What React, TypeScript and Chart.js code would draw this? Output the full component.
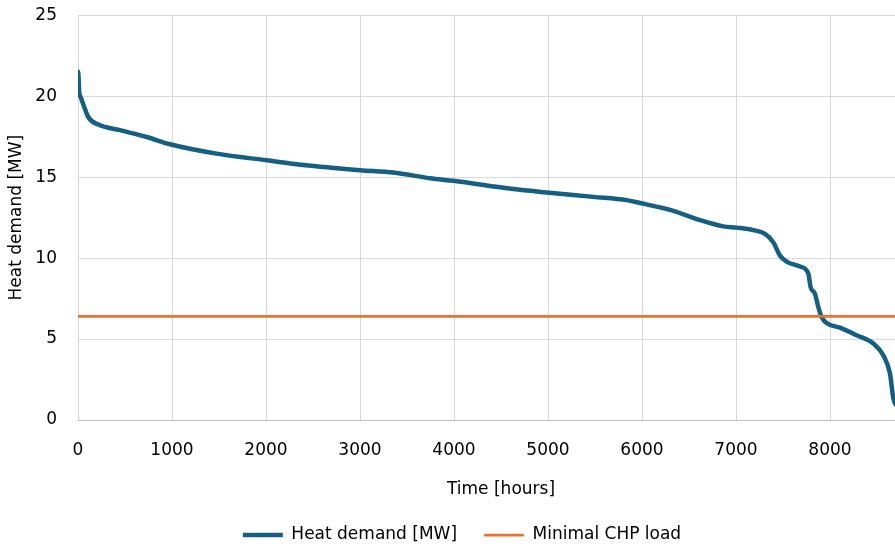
import React, { useEffect, useRef } from "react";
import { Chart, registerables } from "chart.js";

Chart.register(...registerables);

// Load duration curve: hours (sorted) and heat demand in MW
const hours = [
  0, 5, 12, 25, 56, 110, 216, 447, 730, 979, 1475, 2007, 2397, 3000, 3355, 3745,
  3993, 4631, 4986, 5482, 5837, 5979, 6191, 6333, 6617, 6865, 7007, 7184, 7309,
  7397, 7468, 7539, 7681, 7770, 7794, 7840, 7876, 7911, 7964, 8106, 8284, 8461,
  8567, 8638, 8674, 8720, 8760,
];
const heatDemand = [
  21.5, 21.3, 20.3, 20.0, 19.5, 18.7, 18.25, 17.9, 17.48, 17.03, 16.45, 16.04,
  15.75, 15.43, 15.28, 14.93, 14.77, 14.26, 14.05, 13.78, 13.58, 13.4, 13.13,
  12.92, 12.35, 11.96, 11.88, 11.73, 11.49, 10.97, 10.15, 9.78, 9.48, 9.03, 8.2,
  7.8, 6.97, 6.36, 5.99, 5.7, 5.23, 4.72, 4.0, 2.87, 1.33, 0.8, 0.5,
];
const chpHours = [0, 8760];
const chpLoad = [6.4, 6.4];

const xMin = 0;
const xMax = 9000;
const xStep = 1000;
const yMin = 0;
const yMax = 25;
const yStep = 5;

const FONT = { family: "'DejaVu Sans', sans-serif", size: 17 };
const TEXT = "#000000";
const GRID = "#d9d9d9";
const CLEAR = "rgba(0,0,0,0)";

export default function App() {
  const ref = useRef<HTMLCanvasElement | null>(null);

  useEffect(() => {
    if (!ref.current) return;
    const chart = new Chart(ref.current, {
      type: "line",
      data: {
        datasets: [
          {
            label: "Heat demand [MW]",
            data: hours.map((h, i) => ({ x: h, y: heatDemand[i] })),
            borderColor: "#156082",
            backgroundColor: "#156082",
            borderWidth: 4.5,
            pointRadius: 0,
            cubicInterpolationMode: "monotone",
            borderCapStyle: "round",
            borderJoinStyle: "round",
            fill: false,
            order: 1,
          },
          {
            label: "Minimal CHP load",
            data: chpHours.map((h, i) => ({ x: h, y: chpLoad[i] })),
            borderColor: "#E97132",
            backgroundColor: "#E97132",
            borderWidth: 2.75,
            pointRadius: 0,
            fill: false,
            order: 0,
          },
        ],
      },
      options: {
        responsive: false,
        devicePixelRatio: 1,
        animation: false,
        layout: { padding: { top: 14, left: 0, right: 36, bottom: -5.5 } },
        plugins: {
          tooltip: { enabled: false },
          legend: {
            position: "bottom",
            labels: {
              usePointStyle: true,
              pointStyle: "line",
              pointStyleWidth: 40,
              padding: 27,
              font: FONT,
              color: TEXT,
              sort: (a: any, b: any) => a.datasetIndex - b.datasetIndex,
            },
          },
        },
        scales: {
          x: {
            type: "linear",
            min: xMin,
            max: xMax,
            ticks: {
              stepSize: xStep,
              padding: 5,
              font: FONT,
              color: TEXT,
              maxRotation: 0,
              autoSkip: false,
              callback: (v: any) => String(v),
            },
            grid: {
              color: GRID,
              drawTicks: true,
              tickLength: 15,
              tickColor: CLEAR,
              lineWidth: 1,
            },
            border: { color: "#bfbfbf", width: 1 },
            title: {
              display: true,
              text: "Time [hours]",
              font: FONT,
              color: TEXT,
              padding: { top: 0, bottom: 0 },
            },
            afterFit: (s: any) => {
              s.height = 79.5;
            },
          },
          y: {
            type: "linear",
            min: yMin,
            max: yMax,
            ticks: {
              stepSize: yStep,
              padding: 5,
              font: FONT,
              color: TEXT,
              callback: (v: any) => String(v),
            },
            grid: {
              color: GRID,
              drawTicks: true,
              tickLength: 16,
              tickColor: CLEAR,
              lineWidth: 1,
            },
            border: { display: false },
            title: {
              display: true,
              text: "Heat demand [MW]",
              font: FONT,
              color: TEXT,
              padding: { top: 6, bottom: 0 },
            },
            afterFit: (s: any) => {
              s.width = 78;
            },
          },
        },
      },
    } as any);
    return () => chart.destroy();
  }, []);

  return (
    <div
      style={{
        position: "absolute",
        left: 0,
        top: 0,
        width: 895,
        height: 548,
        overflow: "hidden",
        background: "#ffffff",
      }}
    >
      <canvas ref={ref} width={960} height={548} style={{ display: "block" }} />
    </div>
  );
}
